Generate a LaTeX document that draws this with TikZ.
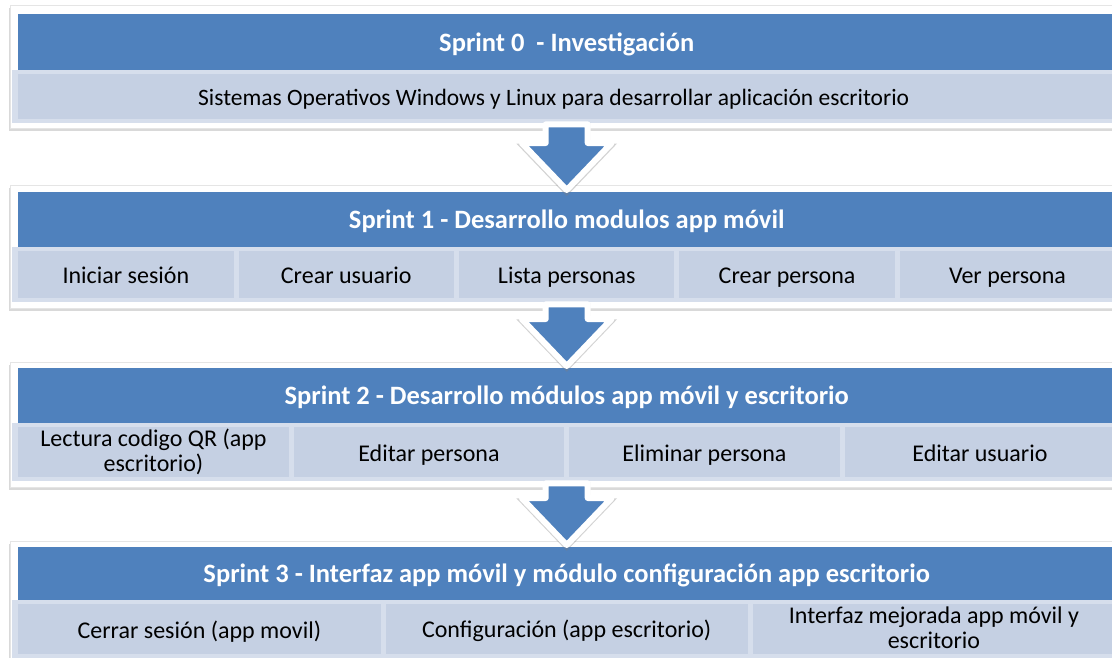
\documentclass[tikz,border=0pt]{standalone}
\usepackage{fontspec}
\setmainfont{Carlito}
\usetikzlibrary{shadows,calc}

\definecolor{sprintblue}{HTML}{4F81BD}
\definecolor{celllight}{HTML}{C5D0E3}
\definecolor{cellrim}{HTML}{D6DEEC}

\newcommand\cellstrut{\rule[-3.5pt]{0pt}{25pt}}
\newcommand\headstrut{\rule[-5pt]{0pt}{28pt}}

\tikzset{
  panel/.style={anchor=north west, inner sep=0pt, fill=white, draw=black!10, minimum width=1115,
    drop shadow={shadow xshift=-1.5pt, shadow yshift=-2.5pt, opacity=0.3}},
  header/.style={anchor=north west, inner sep=0pt, fill=sprintblue, text=white,
    font=\fontsize{26.5}{28}\selectfont\bfseries, minimum width=1097, execute at begin node=\headstrut},
  strip/.style={anchor=north west, inner sep=0pt, fill=cellrim, minimum width=1110},
  cell/.style={anchor=north west, inner sep=0pt, fill=celllight, align=center,
    font=\fontsize{24}{25}\selectfont, execute at begin node=\cellstrut},
  flow/.style={fill=sprintblue, draw=white, line width=6pt, line join=round,
    drop shadow={shadow xshift=0pt, shadow yshift=-2pt, shadow scale=1.12, opacity=0.35}}
}

\begin{document}
\begin{tikzpicture}[x=1pt,y=-1pt]
    \useasboundingbox (0,0) rectangle (1112,657);
    \clip (0,0) rectangle (1112,657);

    % Sprint 0
    \node[panel, minimum height=123] (p0) at (10,5) {};
    \node[header, minimum height=56] (h0) at (18,14) {Sprint 0~ - Investigación};
    \node[strip, minimum height=53] (r0) at (12,70) {};
    \node[cell, minimum width=1097, minimum height=45, font=\fontsize{23.5}{25}\selectfont] (c00) at (18,74)
        {Sistemas Operativos Windows y Linux para desarrollar aplicación escritorio\hspace*{26pt}};

    % Sprint 1
    \node[panel, minimum height=123] (p1) at (10,185) {};
    \node[header, minimum height=55] (h1) at (18,192) {Sprint 1 - Desarrollo modulos app móvil};
    \node[strip, minimum height=55] (r1) at (12,247) {};
    \foreach \txt [count=\i from 0] in {Iniciar sesión, Crear usuario, Lista personas, Crear persona, Ver persona}
        \node[cell, minimum width=215.4, minimum height=47] (c1\i) at (18+\i*220.4,251) {\txt};

    % Sprint 2
    \node[panel, minimum height=125] (p2) at (10,362) {};
    \node[header, minimum height=55] (h2) at (18,368) {Sprint 2 - Desarrollo módulos app móvil y escritorio};
    \node[strip, minimum height=58] (r2) at (12,423) {};
    \foreach \txt [count=\i from 0] in {{Lectura codigo QR (app\\escritorio)}, Editar persona, Eliminar persona, Editar usuario}
        \node[cell, minimum width=270.5, minimum height=50] (c2\i) at (18+\i*275.5,427) {\txt};

    % Sprint 3
    \node[panel, minimum height=130] (p3) at (10,541) {};
    \node[header, minimum height=53] (h3) at (18,547)
        {Sprint 3 - Interfaz app móvil y módulo configuración app escritorio};
    \node[strip, minimum height=62] (r3) at (12,600) {};
    \foreach \txt [count=\i from 0] in {Cerrar sesión (app movil), Configuración (app escritorio), {Interfaz mejorada app móvil y\\escritorio}}
        \node[cell, minimum width=362.3, minimum height=50] (c3\i) at (18+\i*367.3,604) {\txt};

    % arrows between sprints
    \foreach \a/\b in {p0/h1, p1/h2, p2/h3}{
        \coordinate (tip) at ($(\b.north)+(0,-2)$);
        \coordinate (top) at (\a.south -| tip);
        \draw[flow] ($(top)+(-21,-4)$) -- ($(tip)+(-21,-47)$) -- ($(tip)+(-45,-47)$) -- (tip)
            -- ($(tip)+(45,-47)$) -- ($(tip)+(21,-47)$) -- ($(top)+(21,-4)$) -- cycle;
    }
\end{tikzpicture}
\end{document}
